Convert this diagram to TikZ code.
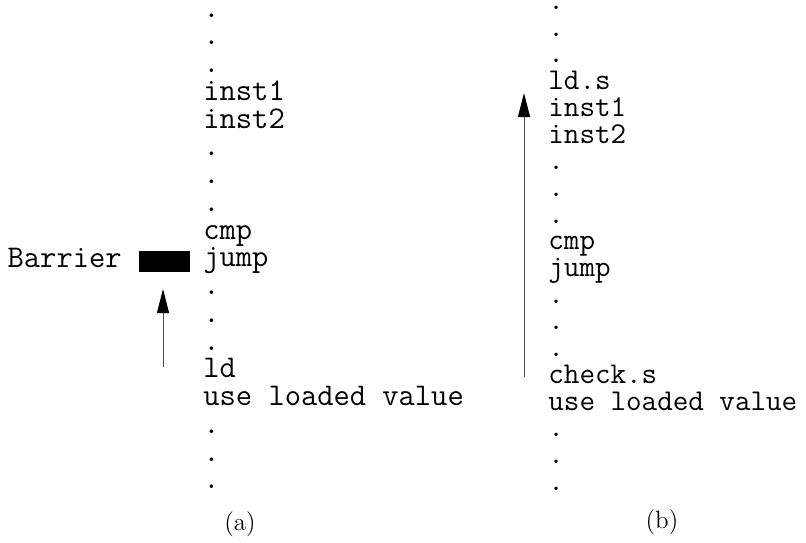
\documentclass[tikz,border=0pt]{standalone}
\usepackage{fontspec}
\usetikzlibrary{arrows.meta}

\begin{document}
\begin{tikzpicture}[x=0.5pt,y=-0.5pt,>={Triangle[length=12pt,width=6pt,color=black]},
    code a/.style={anchor=base west,inner sep=0pt,font=\ttfamily\fontsize{15.8}{16}\selectfont},
    code b/.style={anchor=base west,inner sep=0pt,font=\ttfamily\fontsize{15.1}{16}\selectfont},
    caption node/.style={inner sep=0pt,font=\fontsize{12.5}{14}\selectfont},
    up arrow/.style={->,line width=0.5pt,draw=black!70}]
    \useasboundingbox (0,0) rectangle (806,542);

    % (a): barrier before the load
    \foreach \txt [count=\i] in {.,.,.,inst1,inst2,.,.,.,cmp,jump,.,.,.,ld,use loaded value,.,.,.}
        \node[code a] (a\i) at (203,{17+27.76*(\i-1)}) {\txt};
    \node[code a,anchor=base east] (barrierlabel) at (122,267) {Barrier};
    \node[fill=black,inner sep=0pt,minimum width=25.5pt,minimum height=10.5pt] (barrier) at (164.5,261.5) {};
    \coordinate (atail) at (163,367);
    \coordinate (ahead) at (163,289);
    \draw[up arrow] (atail) -- (ahead);
    \node[caption node] (capa) at (240,524) {(a)};

    % (b): speculative load hoisted up
    \foreach \txt [count=\i] in {.,.,.,ld.s,inst1,inst2,.,.,.,cmp,jump,.,.,.,check.s,use loaded value,.,.,.}
        \node[code b] (b\i) at (548,{9.5+26.7*(\i-1)}) {\txt};
    \coordinate (btail) at (524,377);
    \coordinate (bhead) at (524,93);
    \draw[up arrow] (btail) -- (bhead);
    \node[caption node] (capb) at (662,522) {(b)};
\end{tikzpicture}
\end{document}
